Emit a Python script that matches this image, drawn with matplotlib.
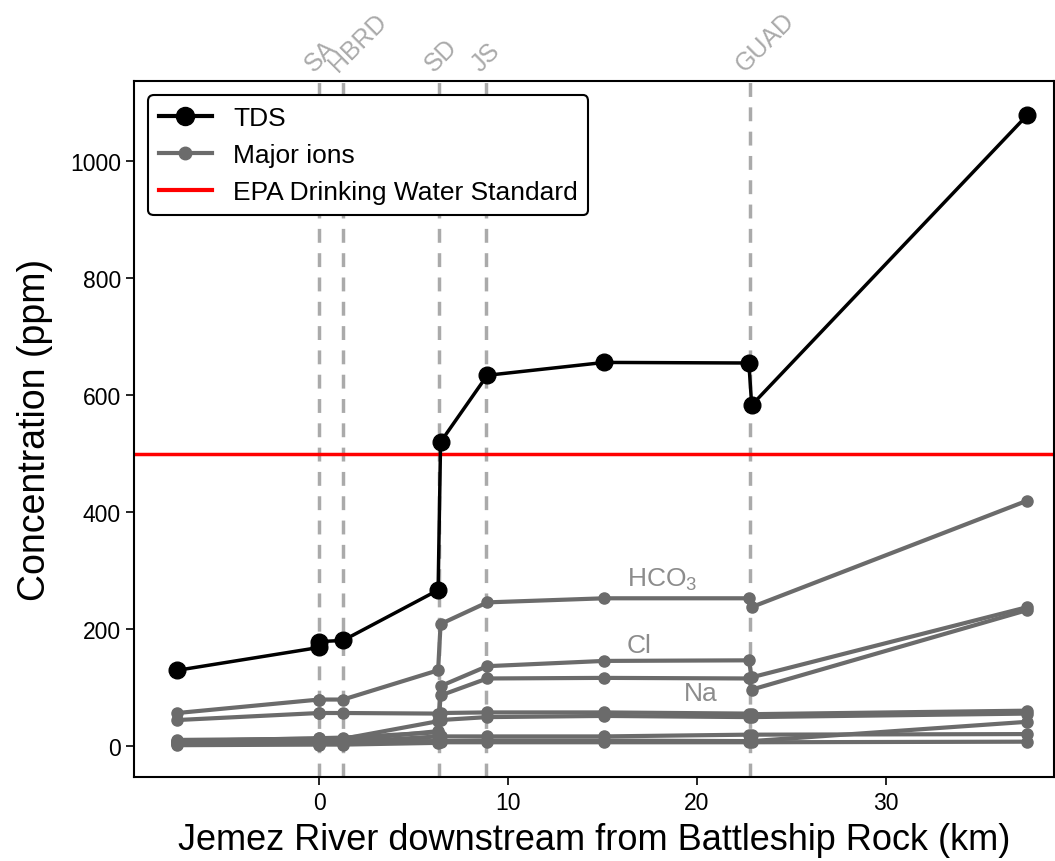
import matplotlib
matplotlib.use("Agg")
import matplotlib.pyplot as plt
from matplotlib.lines import Line2D

plt.rcParams['font.family'] = ['Liberation Sans', 'DejaVu Sans']
plt.rcParams['mathtext.fontset'] = 'custom'
plt.rcParams['mathtext.rm'] = 'Liberation Sans'

# sample locations along the river (km from Battleship Rock)
x_km = [-7.5, 0.0, 0.0, 1.27, 6.3, 6.43, 8.9, 15.1, 22.75, 22.9, 37.5]

# total dissolved solids (ppm)
tds = [130, 169, 179, 181, 267, 520, 634, 656, 655, 583, 1079]

# major ions (ppm)
hco3 = [57, 80, 80, 80, 130, 209, 246, 253, 253, 238, 420]
cl = [6, 9, 9, 10, 26, 103, 137, 146, 147, 118, 238]
na = [9, 14, 14, 15, 24, 87, 116, 117, 116, 97, 233]
sio2 = [45, 57, 57, 57, 56, 57, 58, 58, 56, 55, 61]
ca = [11, 13, 13, 13, 43, 45, 50, 52, 50, 50, 56]
k = [4, 7, 7, 7, 17, 17, 17, 17, 20, 20, 21]
so4 = [8, 9, 9, 9, 9, 9, 10, 10, 9, 9, 42]
mg = [2, 3, 3, 3, 6, 7, 7, 7, 7, 7, 8]
ions = [hco3, cl, na, sio2, ca, k, so4, mg]

# inflow locations
site_names = ['SA', 'HBRD', 'SD', 'JS', 'GUAD']
site_km = [0.0, 1.27, 6.37, 8.82, 22.8]

epa_limit = 500

ion_color = '#6b6b6b'
site_color = '#aaaaaa'
label_color = '#8c8c8c'

fig, ax = plt.subplots(figsize=(10.55, 8.62), dpi=100)
fig.subplots_adjust(left=0.127, right=0.999, bottom=0.097, top=0.905)

for xs in site_km:
    ax.axvline(xs, color=site_color, ls='--', lw=2.5, dashes=(4, 3), zorder=1)

ax.axhline(epa_limit, color='red', lw=2.5, zorder=2)

for ion in ions:
    ax.plot(x_km, ion, color=ion_color, lw=3, marker='o', ms=8, zorder=3)

ax.plot(x_km, tds, color='black', lw=2.5, marker='o', ms=12, zorder=4)

# ion labels
ax.text(16.3, 275, 'HCO$_3$', color=label_color, fontsize=19)
ax.text(16.3, 162, 'Cl', color=label_color, fontsize=19)
ax.text(19.3, 80, 'Na', color=label_color, fontsize=19)

# site labels above the axes
for name, xs in zip(site_names, site_km):
    ax.text(xs - 0.1, 1.008, name, transform=ax.get_xaxis_transform(), rotation=45,
            rotation_mode='anchor', ha='left', va='bottom', color=site_color,
            fontsize=18)

ax.set_xlim(-9.8, 38.9)
ax.set_ylim(-53, 1137)
ax.set_xticks([0, 10, 20, 30])
ax.set_yticks([0, 200, 400, 600, 800, 1000])
ax.tick_params(labelsize=16.5, width=1.2, length=6)
for sp in ax.spines.values():
    sp.set_linewidth(1.5)

ax.set_xlabel('Jemez River downstream from Battleship Rock (km)', fontsize=26, labelpad=6)
ax.set_ylabel('Concentration (ppm)', fontsize=27, labelpad=12)

handles = [
    Line2D([], [], color='black', lw=3, marker='o', ms=13),
    Line2D([], [], color=ion_color, lw=3, marker='o', ms=9),
    Line2D([], [], color='red', lw=3),
]
leg = ax.legend(handles, ['TDS', 'Major ions', 'EPA Drinking Water Standard'],
                loc='upper left', fontsize=19, framealpha=1, fancybox=True,
                borderaxespad=0.55)
leg.get_frame().set_edgecolor('black')
leg.get_frame().set_linewidth(1.5)

fig.savefig('out.png', dpi=100)
